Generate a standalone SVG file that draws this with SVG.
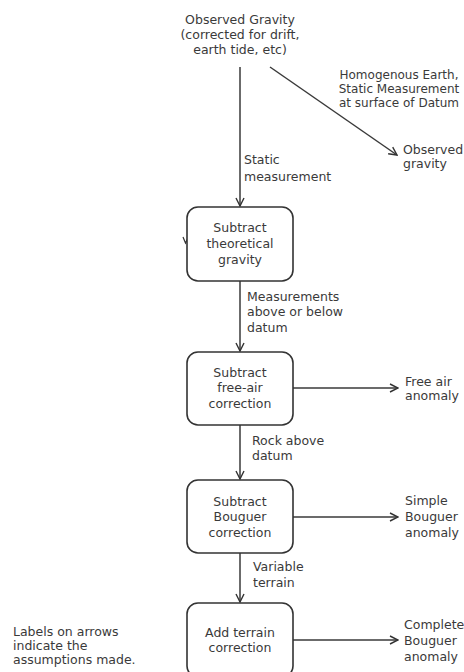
<svg xmlns="http://www.w3.org/2000/svg" width="464" height="672" viewBox="0 0 464 672">
  <defs>
    <marker id="arrow" markerWidth="10" markerHeight="10" refX="9" refY="5" orient="auto" markerUnits="userSpaceOnUse">
      <path d="M1,1 L9,5 L1,9" fill="none" stroke="#333" stroke-width="1.4"/>
    </marker>
    <style>
      text { font-family: "DejaVu Sans", Verdana, sans-serif; font-size: 12.5px; fill: #3a3a3a; }
      .c { text-anchor: middle; }
      .s { font-size: 12px; }
      .box { fill: #fff; stroke: #333; stroke-width: 1.6; }
      .edge { fill: none; stroke: #3a3a3a; stroke-width: 1.5; marker-end: url(#arrow); }
    </style>
  </defs>
  <rect width="464" height="672" fill="#fff"/>

  <g id="connectors">
    <line class="edge" x1="240" y1="67" x2="240" y2="206"/>
    <line class="edge" x1="270" y1="67" x2="397" y2="155"/>
    <line class="edge" x1="240" y1="281" x2="240" y2="351"/>
    <line class="edge" x1="240" y1="425" x2="240" y2="479"/>
    <line class="edge" x1="240" y1="553" x2="240" y2="602"/>
    <line class="edge" x1="293" y1="388" x2="398" y2="388"/>
    <line class="edge" x1="293" y1="517" x2="398" y2="517"/>
    <line class="edge" x1="293" y1="640" x2="398" y2="640"/>
    <path d="M183,237 L185.5,243 L188,238" fill="none" stroke="#333" stroke-width="1.2"/>
  </g>

  <g id="source">
    <text class="c" x="240" y="24">Observed Gravity</text>
    <text class="c" x="240" y="39">(corrected for drift,</text>
    <text class="c" x="240" y="54">earth tide, etc)</text>
  </g>

  <g id="edge-labels">
    <text class="c s" x="399" y="78.5">Homogenous Earth,</text>
    <text class="c s" x="399" y="92.5">Static Measurement</text>
    <text class="c s" x="399" y="106.5">at surface of Datum</text>
    <text x="244" y="164">Static</text>
    <text x="244" y="181">measurement</text>
    <text x="247" y="301">Measurements</text>
    <text x="247" y="316">above or below</text>
    <text x="247" y="332">datum</text>
    <text x="252" y="445">Rock above</text>
    <text x="252" y="460">datum</text>
    <text x="253" y="571">Variable</text>
    <text x="253" y="587">terrain</text>
  </g>

  <g id="theoretical">
    <rect class="box" x="187" y="207" width="106" height="74" rx="11"/>
    <text class="c" x="240" y="232">Subtract</text>
    <text class="c" x="240" y="248">theoretical</text>
    <text class="c" x="240" y="264">gravity</text>
  </g>

  <g id="free-air">
    <rect class="box" x="187" y="352" width="106" height="73" rx="11"/>
    <text class="c" x="240" y="377">Subtract</text>
    <text class="c" x="240" y="392">free-air</text>
    <text class="c" x="240" y="408">correction</text>
  </g>

  <g id="bouguer">
    <rect class="box" x="187" y="480" width="106" height="73" rx="11"/>
    <text class="c" x="240" y="506">Subtract</text>
    <text class="c" x="240" y="521">Bouguer</text>
    <text class="c" x="240" y="537">correction</text>
  </g>

  <g id="terrain">
    <rect class="box" x="187" y="603" width="106" height="74" rx="11"/>
    <text class="c" x="240" y="637">Add terrain</text>
    <text class="c" x="240" y="652">correction</text>
  </g>

  <g id="observed-gravity">
    <text x="403" y="154">Observed</text>
    <text x="403" y="168">gravity</text>
  </g>

  <g id="free-air-anomaly">
    <text x="405" y="386">Free air</text>
    <text x="405" y="400">anomaly</text>
  </g>

  <g id="simple-bouguer">
    <text x="405" y="505">Simple</text>
    <text x="405" y="521">Bouguer</text>
    <text x="405" y="537">anomaly</text>
  </g>

  <g id="complete-bouguer">
    <text x="404" y="629">Complete</text>
    <text x="404" y="645">Bouguer</text>
    <text x="404" y="661">anomaly</text>
  </g>

  <g id="note">
    <text x="13" y="636">Labels on arrows</text>
    <text x="13" y="650">indicate the</text>
    <text x="13" y="664">assumptions made.</text>
  </g>
</svg>
